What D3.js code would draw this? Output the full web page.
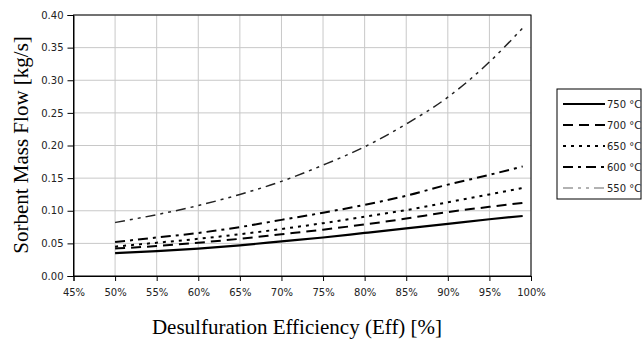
<!DOCTYPE html>
<html>
<head>
<meta charset="utf-8">
<script src="https://cdn.jsdelivr.net/npm/d3@7"></script>
<style>
  body { margin: 0; background: #fff; }
  .tick text { font-family: 'DejaVu Sans', sans-serif; font-size: 10px; fill: #222; }
</style>
</head>
<body>
<script>
let efficiency = [50, 55, 60, 65, 70, 75, 80, 85, 90, 95, 99]

let flow750 = [0.035, 0.038, 0.042, 0.047, 0.053, 0.059, 0.066, 0.073, 0.080, 0.087, 0.092]
let flow700 = [0.042, 0.046, 0.051, 0.057, 0.064, 0.071, 0.079, 0.088, 0.098, 0.106, 0.112]
let flow650 = [0.045, 0.051, 0.057, 0.064, 0.072, 0.081, 0.091, 0.101, 0.113, 0.125, 0.135]
let flow600 = [0.052, 0.059, 0.066, 0.075, 0.086, 0.097, 0.109, 0.123, 0.140, 0.155, 0.168]
let flow550 = [0.082, 0.094, 0.108, 0.125, 0.145, 0.170, 0.198, 0.233, 0.274, 0.328, 0.380]

let seriesNames = ['750 °C', '700 °C', '650 °C', '600 °C', '550 °C']
let xTicks = [45, 50, 55, 60, 65, 70, 75, 80, 85, 90, 95, 100]
let yTicks = [0, 0.05, 0.10, 0.15, 0.20, 0.25, 0.30, 0.35, 0.40]

let series = [
  { name: seriesNames[0], values: flow750, dash: null, width: 2.2, color: '#000' },
  { name: seriesNames[1], values: flow700, dash: '10,6', width: 2, color: '#000' },
  { name: seriesNames[2], values: flow650, dash: '3,5', width: 2, color: '#000' },
  { name: seriesNames[3], values: flow600, dash: '10,5,3,5', width: 2, color: '#000' },
  { name: seriesNames[4], values: flow550, dash: '10,5,3,5,3,5', width: 1.5, color: '#222' }
]

let margin = { top: 15, left: 73.5, right: 112, bottom: 66 }
let width = 643 - margin.left - margin.right
let height = 342 - margin.top - margin.bottom

let svg = d3.select('body')
  .append('svg')
    .attr('width', 643)
    .attr('height', 342)

let g = svg.append('g')
  .attr('transform', 'translate(' + margin.left + ',' + margin.top + ')')

let x = d3.scaleLinear().domain([45, 100]).range([0, width])
let y = d3.scaleLinear().domain([0, 0.40]).range([height, 0])

// grid
g.append('g')
  .selectAll('line')
  .data(xTicks.slice(1))
  .enter()
  .append('line')
    .attr('x1', d => x(d)).attr('x2', d => x(d))
    .attr('y1', 0).attr('y2', height)
    .attr('stroke', '#c8c8c8')
g.append('g')
  .selectAll('line')
  .data(yTicks.slice(1))
  .enter()
  .append('line')
    .attr('x1', 0).attr('x2', width)
    .attr('y1', d => y(d)).attr('y2', d => y(d))
    .attr('stroke', '#c8c8c8')

// frame
g.append('rect')
  .attr('width', width)
  .attr('height', height)
  .attr('fill', 'none')
  .attr('stroke', '#000')

let xAxis = g.append('g')
  .attr('transform', 'translate(0,' + height + ')')
  .call(d3.axisBottom(x).tickValues(xTicks).tickFormat(d => d + '%').tickSize(5).tickPadding(8))
let yAxis = g.append('g')
  .call(d3.axisLeft(y).tickValues(yTicks).tickFormat(d3.format('.2f')).tickSize(6).tickPadding(4))
xAxis.select('.domain').attr('stroke', '#000')
yAxis.select('.domain').attr('stroke', '#000')

let line = d3.line()
  .x((d, i) => x(efficiency[i]))
  .y(d => y(d))
  .curve(d3.curveMonotoneX)

g.append('g')
  .selectAll('path')
  .data(series)
  .enter()
  .append('path')
    .attr('d', d => line(d.values))
    .attr('fill', 'none')
    .attr('stroke', d => d.color)
    .attr('stroke-width', d => d.width)
    .attr('stroke-dasharray', d => d.dash)

// axis titles
svg.append('text')
  .attr('x', 297)
  .attr('y', 334)
  .attr('text-anchor', 'middle')
  .style('font-family', "'Liberation Serif', serif")
  .style('font-size', '21px')
  .text('Desulfuration Efficiency (Eff) [%]')

svg.append('text')
  .attr('transform', 'translate(28,145) rotate(-90)')
  .attr('text-anchor', 'middle')
  .style('font-family', "'Liberation Serif', serif")
  .style('font-size', '21px')
  .text('Sorbent Mass Flow [kg/s]')

// legend
let legend = svg.append('g')
  .attr('transform', 'translate(557,89)')
legend.append('rect')
  .attr('width', 84)
  .attr('height', 110)
  .attr('fill', '#fff')
  .attr('stroke', '#000')

let rows = legend.selectAll('.row')
  .data(series)
  .enter()
  .append('g')
    .attr('class', 'row')
    .attr('transform', (d, i) => 'translate(0,' + (15 + i * 21) + ')')
rows.append('line')
  .attr('x1', 6).attr('x2', 48)
  .attr('stroke', (d, i) => i === 4 ? '#666' : d.color)
  .attr('stroke-width', (d, i) => i === 4 ? 1.2 : d.width)
  .attr('stroke-dasharray', d => d.dash)
rows.append('text')
  .attr('x', 50)
  .attr('y', 4)
  .style('font-family', "'DejaVu Sans', sans-serif")
  .style('font-size', '10px')
  .style('fill', '#222')
  .text(d => d.name)
</script>
</body>
</html>
